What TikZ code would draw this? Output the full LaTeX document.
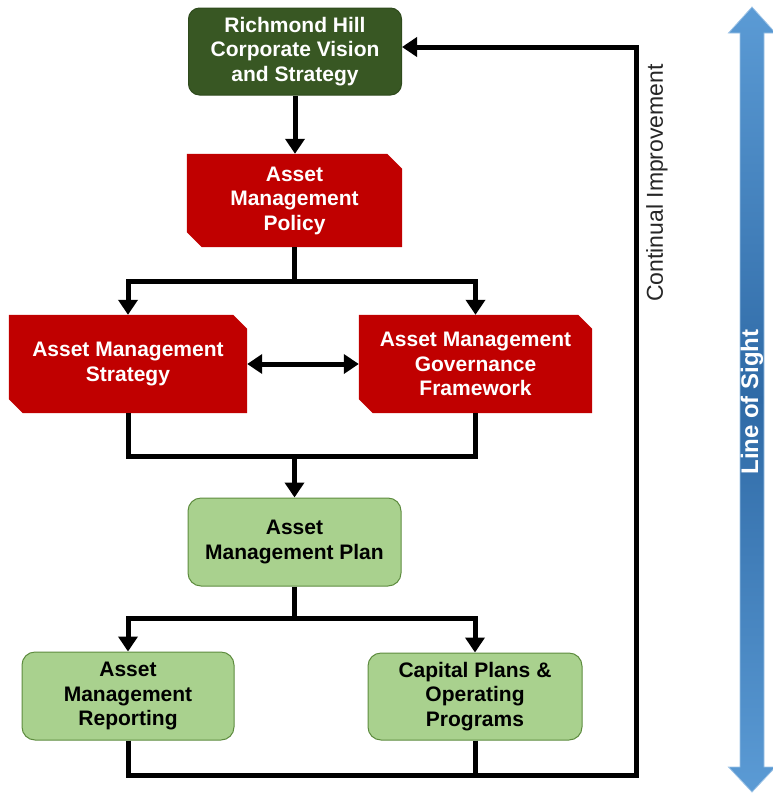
\documentclass[tikz,border=0pt]{standalone}
\usepackage{fontspec}
\setmainfont{Liberation Sans}
\usetikzlibrary{arrows.meta,backgrounds}

\definecolor{visiongreen}{HTML}{385723}
\definecolor{visionedge}{HTML}{2E4A1C}
\definecolor{amred}{HTML}{C00000}
\definecolor{plangreen}{HTML}{A9D18E}
\definecolor{planedge}{HTML}{5E8C3F}
\definecolor{loslight}{HTML}{5B9BD5}
\definecolor{losdark}{HTML}{2F6AA6}
\definecolor{losedge}{HTML}{9DC3E6}
\definecolor{cigray}{HTML}{262626}

% red box with snipped top-right and bottom-left corners, filled behind its node
\newcommand\snipfill[2][14pt]{%
  \begin{pgfonlayer}{background}
    \fill[amred] (#2.north west) -- ([xshift=-#1]#2.north east)
      -- ([yshift=-#1]#2.north east) -- (#2.south east)
      -- ([xshift=#1]#2.south west) -- ([yshift=#1]#2.south west) -- cycle;
  \end{pgfonlayer}}

\begin{document}
\begin{tikzpicture}[x=1pt,y=-1pt,
  box/.style={align=center, inner sep=0pt,
    font=\bfseries\fontsize{21}{24.5}\selectfont},
  visionbox/.style={box, fill=visiongreen, draw=visionedge, line width=1pt,
    rounded corners=11pt, text=white},
  redbox/.style={box, text=white},
  planbox/.style={box, fill=plangreen, draw=planedge, line width=1pt,
    rounded corners=13pt, text=black},
  flow/.style={draw=black, line width=5pt},
  tip/.style={-{Triangle[width=19pt,length=15pt]}},
  bothtips/.style={{Triangle[width=19pt,length=15pt]}-{Triangle[width=19pt,length=15pt]}},
]
\useasboundingbox (0,0) rectangle (773,793);

% ---- boxes ----
\node[visionbox, minimum width=213pt, minimum height=87pt] (vision) at (295,51.5)
  {Richmond Hill\\Corporate Vision\\and Strategy};

\node[redbox, minimum width=215pt, minimum height=93pt] (policy) at (294.5,200.5)
  {Asset\\Management\\Policy};
\snipfill[15pt]{policy}

\node[redbox, minimum width=238pt, minimum height=98pt] (strategy) at (128,364)
  {Asset Management\\Strategy};
\snipfill{strategy}

\node[redbox, minimum width=233pt, minimum height=98pt] (gov) at (475.5,364)
  {Asset Management\\Governance\\Framework};
\snipfill{gov}

\node[planbox, minimum width=213pt, minimum height=88pt] (amp) at (294.5,542)
  {Asset\\Management Plan};

\node[planbox, minimum width=212pt, minimum height=88pt] (report) at (128,696)
  {Asset\\Management\\Reporting};

\node[planbox, minimum width=214pt, minimum height=87pt] (capital) at (475,696.5)
  {Capital Plans \&\\Operating\\Programs};

% ---- junction points ----
\coordinate (split1) at (294.5,281);
\coordinate (merge1) at (294.5,456);
\coordinate (split2) at (294.5,618);
\coordinate (loopcorner) at (636,775);
\coordinate (loopturn) at (636,47);

% ---- connectors ----
\draw[flow,tip] (vision.south) -- (vision.south |- policy.north);
\draw[flow] (policy.south) -- (split1);
\draw[flow,tip] (split1) -| (strategy.north);
\draw[flow,tip] (split1) -| (gov.north);

\draw[flow,bothtips] (strategy.east) -- (gov.west);

\draw[flow] (strategy.south) |- (merge1) -| (gov.south);
\draw[flow,tip] (merge1) -- (amp.north);

\draw[flow] (amp.south) -- (split2);
\draw[flow,tip] (split2) -| (report.north);
\draw[flow,tip] (split2) -| (capital.north);

% feedback loop back to the corporate vision
\draw[flow,tip] (report.south) |- (loopcorner) -- (loopturn) -- (vision.east |- loopturn);
\draw[flow] (capital.south) -- (capital.south |- loopcorner);

\node[rotate=90, text=cigray, font=\fontsize{23}{27}\selectfont] (ci) at (657,183)
  {Continual Improvement};

% ---- line of sight double arrow ----
\shade[top color=loslight, bottom color=loslight, middle color=losdark,
       draw=losedge, line width=0.8pt]
  (752,7) -- (775.5,33) -- (764,33) -- (764,767) -- (775.5,767) -- (752,792)
  -- (728.5,767) -- (740,767) -- (740,33) -- (728.5,33) -- cycle;
\node[rotate=90, text=white, font=\bfseries\fontsize{24}{28}\selectfont] (los) at (752,402)
  {Line of Sight};
\end{tikzpicture}
\end{document}
